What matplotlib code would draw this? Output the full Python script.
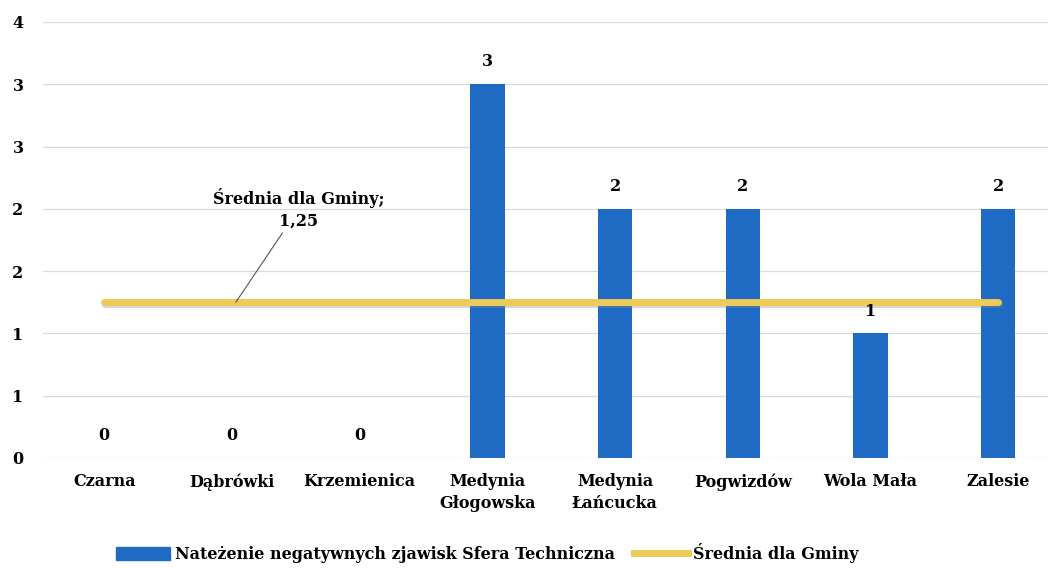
import numpy as np
import matplotlib.pyplot as plt
import matplotlib.patheffects as pe
from matplotlib.lines import Line2D
from matplotlib.patches import Patch

plt.rcParams['font.family'] = ['DejaVu Serif']
plt.rcParams['font.weight'] = 'bold'

categories = ['Czarna', 'Dąbrówki', 'Krzemienica', 'Medynia\nGłogowska',
              'Medynia\nŁańcucka', 'Pogwizdów', 'Wola Mała', 'Zalesie']
values = [0, 0, 0, 3, 2, 2, 1, 2]
average = 1.25
yticks = [0, 0.5, 1, 1.5, 2, 2.5, 3, 3.5]
ytick_labels = ['0', '1', '1', '2', '2', '3', '3', '4']

bar_color = '#1f6bc4'
line_color = '#eccb58'

fig = plt.figure(figsize=(10.48, 5.68), dpi=100)
ax = fig.add_axes([0.041, 0.1937, 0.959, 0.7676])

x = np.arange(len(categories))
ax.bar(x, values, width=0.27, color=bar_color, zorder=2)

# average line with soft shadow
ax.plot(x, [average] * len(x), color=line_color, lw=5, solid_capstyle='round', zorder=3,
        path_effects=[pe.SimpleLineShadow(offset=(0.5, -1.5), shadow_color='#888888', alpha=0.35),
                      pe.Normal()])

for xi, v in zip(x, values):
    ax.annotate(str(v), (xi, v), xytext=(0, 10), textcoords='offset points',
                ha='center', va='bottom', fontsize=11.5, fontweight='bold')

ax.annotate('Średnia dla Gminy;\n1,25', xy=(1.03, average), xytext=(1.52, 1.83),
            ha='center', va='bottom', fontsize=11.5, fontweight='bold', linespacing=1.35,
            arrowprops=dict(arrowstyle='-', color='#555555', lw=0.8, shrinkA=0, shrinkB=0))

ax.set_xlim(-0.48, 7.39)
ax.set_ylim(0, 3.5)
ax.set_yticks(yticks)
ax.set_yticklabels(ytick_labels)
ax.set_xticks(x)
ax.set_xticklabels(categories, linespacing=1.4)
ax.tick_params(axis='both', length=0, labelsize=11.5)
ax.tick_params(axis='y', pad=14)
ax.tick_params(axis='x', pad=11)
for lbl in ax.get_yticklabels() + ax.get_xticklabels():
    lbl.set_fontweight('bold')
ax.grid(axis='y', color='#d9d9d9', lw=0.9, zorder=0)
ax.set_axisbelow(True)
for s in ax.spines.values():
    s.set_visible(False)

handles = [Patch(color=bar_color),
           Line2D([0], [0], color=line_color, lw=5)]
labels = ['Nateżenie negatywnych zjawisk Sfera Techniczna', 'Średnia dla Gminy']
fig.legend(handles, labels, loc='center', bbox_to_anchor=(0.465, 0.027), ncol=2,
           frameon=False, handlelength=3.4, handleheight=0.9,
           handletextpad=0.3, columnspacing=1.2, prop={'weight': 'bold', 'size': 11.5})

fig.savefig('out.png', dpi=100)
